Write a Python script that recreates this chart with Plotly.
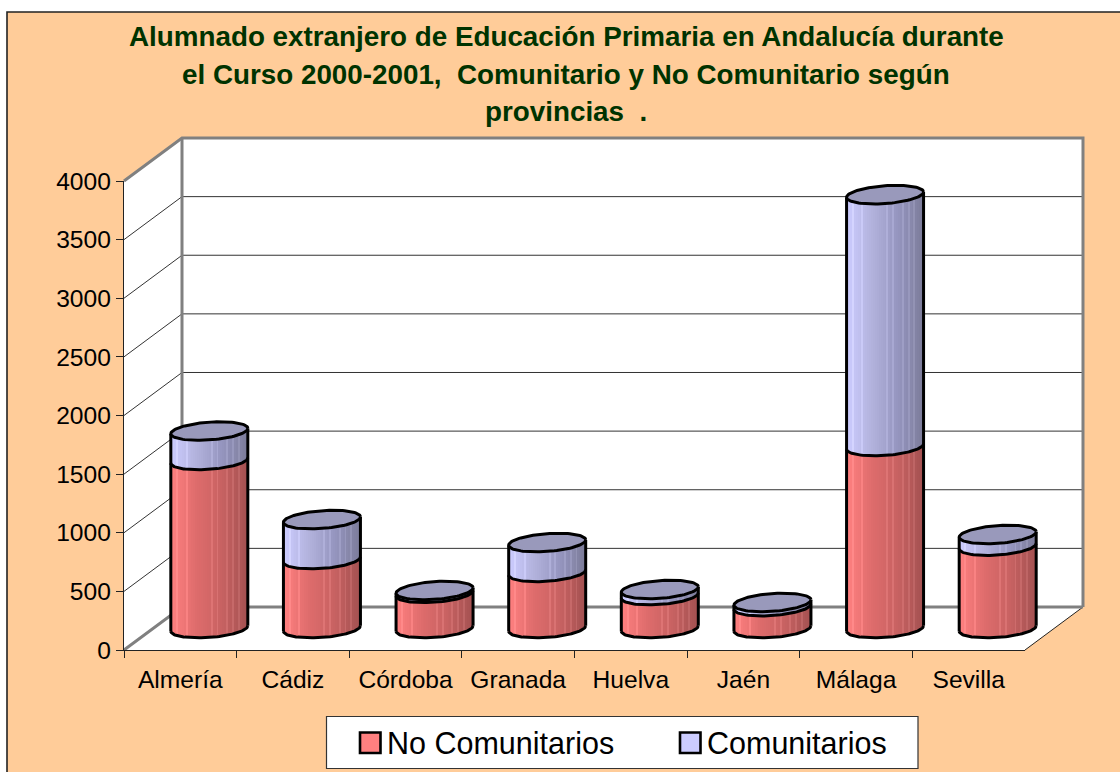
import math
import plotly.graph_objects as go

# ---------- data ----------
categories = ["Almería", "Cádiz", "Córdoba", "Granada", "Huelva", "Jaén", "Málaga", "Sevilla"]
no_comunitarios = [1433, 588, 300, 478, 281, 186, 1552, 702]
comunitarios = [251, 341, 24, 255, 52, 36, 2148, 100]
y_ticks = [0, 500, 1000, 1500, 2000, 2500, 3000, 3500, 4000]
series_names = ["No Comunitarios", "Comunitarios"]
title_lines = [
    "Alumnado extranjero de Educación Primaria en Andalucía durante",
    "el Curso 2000-2001,  Comunitario y No Comunitario según",
    "provincias  .",
]

# ---------- layout constants (pixels) ----------
W, H = 1120, 772
FX0, FX1, FY0, FY1 = 124, 1025, 650, 181      # front plane of the box
DX, DY = 58, 43                               # depth of the box
MX, MY = 29, 21.5                             # plane in which the cylinders stand
RX, RY, TILT = 38.5, 8.9, 2.7                 # cylinder ellipse in pixels
N_SLICES = 40
ORANGE = "#FFCC99"
TOP_COLOR = "#9999BB"
GREY = "#808080"
Y_BELOW = 200                                 # room below zero on the cylinder axis

def px(x):
    return x / W

def py(y):
    return 1 - y / H

PX_PER_CAT = (FX1 - FX0) / len(categories)
PX_PER_VAL = (FY0 - FY1) / 4000

def lerp_color(stops, t):
    t = min(max(t, 0), 1) * (len(stops) - 1)
    i = min(int(t), len(stops) - 2)
    f = t - i
    c = [stops[i][k] + (stops[i + 1][k] - stops[i][k]) * f for k in range(3)]
    return "rgb(%d,%d,%d)" % tuple(round(v) for v in c)

RED_STOPS = [(255, 128, 128), (222, 108, 108), (200, 98, 98), (165, 82, 82)]
BLUE_STOPS = [(204, 204, 255), (178, 178, 220), (150, 150, 192), (125, 125, 155)]
STRIPES = {3, 8, 21, 24, 29, 32, 35}           # faint light facets of the cylinder

def slice_colors(stops):
    out = []
    for s in range(N_SLICES):
        col = lerp_color(stops, s / (N_SLICES - 1))
        if s in STRIPES:
            r, g, b = [int(v) for v in col[4:-1].split(",")]
            col = "rgb(%d,%d,%d)" % (min(r + 14, 255), min(g + 14, 255), min(b + 14, 255))
        out.append(col)
    return out

def ellipse_points(center_cat, value, t0, t1, n=60):
    xs, ys = [], []
    for k in range(n + 1):
        t = t0 + (t1 - t0) * k / n
        xs.append(center_cat + RX * math.cos(t) / PX_PER_CAT)
        up = TILT * math.cos(t) - RY * math.sin(t)
        ys.append(value + up / PX_PER_VAL)
    return xs, ys

fig = go.Figure()

# Invisible carrier of the category axis (front plane)
fig.add_trace(go.Scatter(x=categories, y=[0] * len(categories), mode="markers",
                         marker=dict(opacity=0), hoverinfo="skip", showlegend=False,
                         xaxis="x", yaxis="y"))

# Cylinder bodies: each cylinder is a run of thin bars on the mid-depth axes
for idx, (name, values, stops) in enumerate(zip(series_names, [no_comunitarios, comunitarios],
                                                 [RED_STOPS, BLUE_STOPS])):
    lows = no_comunitarios if idx == 1 else [0] * len(categories)
    xs, bases, heights, colors, custom = [], [], [], [], []
    shades = slice_colors(stops)
    for c, (lo, v) in enumerate(zip(lows, values)):
        for s in range(N_SLICES):
            u = -1 + (2 * s + 1) / N_SLICES
            off = (TILT * u - RY * math.sqrt(1 - u * u)) / PX_PER_VAL
            xs.append(c + u * RX / PX_PER_CAT)
            bases.append(lo + off)
            heights.append(v)
            colors.append(shades[s])
            custom.append(categories[c])
    fig.add_trace(go.Bar(x=xs, y=heights, base=bases, width=2 * RX / PX_PER_CAT / N_SLICES,
                         marker=dict(color=colors, line=dict(width=0)), name=name,
                         customdata=custom, hovertemplate="%{customdata}: %{y}<extra>" + name + "</extra>",
                         showlegend=False, xaxis="x2", yaxis="y2"))

# Outlines and top faces, positioned from the same values
for c in range(len(categories)):
    low = no_comunitarios[c]
    top = low + comunitarios[c]
    line = dict(color="black", width=3)
    opts = dict(mode="lines", hoverinfo="skip", showlegend=False, xaxis="x2", yaxis="y2")
    for level in (0, low):
        xs, ys = ellipse_points(c, level, 0, math.pi)
        fig.add_trace(go.Scatter(x=xs, y=ys, line=line, **opts))
    xl, yl = ellipse_points(c, 0, math.pi, math.pi, 1)
    xr, yr = ellipse_points(c, 0, 0, 0, 1)
    xtl, ytl = ellipse_points(c, top, math.pi, math.pi, 1)
    xtr, ytr = ellipse_points(c, top, 0, 0, 1)
    fig.add_trace(go.Scatter(x=[xl[0], xtl[0]], y=[yl[0], ytl[0]], line=line, **opts))
    fig.add_trace(go.Scatter(x=[xr[0], xtr[0]], y=[yr[0], ytr[0]], line=line, **opts))
    xs, ys = ellipse_points(c, top, 0, 2 * math.pi, 100)
    fig.add_trace(go.Scatter(x=xs, y=ys, line=line, fill="toself", fillcolor=TOP_COLOR, **opts))

# ---------- box: walls and gridlines ----------
def poly(points, fill=None, color=None, width=0, layer="below"):
    path = "M" + "L".join("%.5f,%.5f" % (px(x), py(y)) for x, y in points)
    if fill:
        path += "Z"
    return dict(type="path", xref="paper", yref="paper", path=path,
                fillcolor=fill or "rgba(0,0,0,0)",
                line=dict(color=color or "rgba(0,0,0,0)", width=width), layer=layer)

BX0, BX1, BY0, BY1 = FX0 + DX, FX1 + DX, FY0 - DY, FY1 - DY - 0
shapes = [
    # chart area (white page shows left of and above it)
    poly([(7, 12), (W + 5, 12), (W + 5, H + 5), (7, H + 5)], ORANGE, "#222222", 1.6),
    # walls
    poly([(FX0, FY1), (BX0, BY1), (BX0, BY0), (FX0, FY0)], "white"),
    poly([(BX0, BY1), (BX1, BY1), (BX1, BY0), (BX0, BY0)], "white"),
    poly([(FX0, FY0), (BX0, BY0), (BX1, BY0), (FX1, FY0)], "white"),
]
for v in y_ticks[1:-1]:
    yf = FY0 - v * PX_PER_VAL
    yb = BY0 - v * PX_PER_VAL
    shapes.append(poly([(FX0, yf), (BX0, yb), (BX1, yb)], None, "#333333", 1))
shapes += [
    poly([(FX1, FY0), (BX1, BY0)], None, "#222222", 1),
    poly([(FX0, FY0), (BX0, BY0), (BX1, BY0)], None, GREY, 3),
    poly([(FX0, FY1), (BX0, BY1), (BX1, BY1), (BX1, BY0)], None, GREY, 3),
    poly([(BX0, BY1), (BX0, BY0)], None, GREY, 3),
]

# legend box
LX0, LX1, LY0, LY1 = 326.5, 918, 716.5, 768.5
shapes.append(poly([(LX0, LY0), (LX1, LY0), (LX1, LY1), (LX0, LY1)], "white", "#333333", 1.2))
swatches = [(360, 380.5), (680, 700.5)]
for (a, b), col in zip(swatches, ["#FF8080", "#CCCCFF"]):
    shapes.append(poly([(a, 732.5), (b, 732.5), (b, 753), (a, 753)], col, "black", 2.6))

annotations = []
for name, x in zip(series_names, [384.5, 705]):
    annotations.append(dict(text=name, x=px(x), y=py(743), xref="paper", yref="paper",
                            xanchor="left", yanchor="middle", showarrow=False,
                            font=dict(size=30.5, color="black")))
for line_text, y in zip(title_lines, [37, 74, 111]):
    annotations.append(dict(text="<b>" + line_text + "</b>", x=px(566), y=py(y),
                            xref="paper", yref="paper", xanchor="center", yanchor="middle",
                            showarrow=False, font=dict(size=27.8, color="#003300")))

AX_FONT = dict(family="Liberation Sans, Arial, sans-serif", size=24.6, color="black")
fig.update_layout(
    width=W, height=H, autosize=False,
    margin=dict(l=0, r=0, t=0, b=0, pad=0, autoexpand=False),
    paper_bgcolor="white", plot_bgcolor="rgba(0,0,0,0)",
    font=dict(family="Liberation Sans, Arial, sans-serif", color="black"),
    barmode="overlay", showlegend=False,
    shapes=shapes, annotations=annotations,
    xaxis=dict(domain=[px(FX0), px(FX1)], type="category", categoryorder="array",
               categoryarray=categories, range=[-0.5, len(categories) - 0.5],
               tickson="boundaries", ticks="outside", ticklen=7, tickwidth=1.2,
               tickcolor="#222222", showline=True, linecolor="#222222", linewidth=1.4,
               showgrid=False, zeroline=False, tickfont=AX_FONT, fixedrange=True,
               automargin=False, ticklabelstandoff=7),
    yaxis=dict(domain=[py(FY0), py(FY1)], range=[0, 4000], tickvals=y_ticks,
               ticks="outside", ticklen=7, tickwidth=1.2, tickcolor="#222222",
               showline=True, linecolor="#222222", linewidth=1.4, showgrid=False,
               zeroline=False, tickfont=AX_FONT, fixedrange=True, automargin=False),
    xaxis2=dict(domain=[px(FX0 + MX), px(FX1 + MX)], range=[-0.5, len(categories) - 0.5],
                anchor="y2", visible=False, fixedrange=True),
    yaxis2=dict(domain=[py(FY0 - MY + Y_BELOW * PX_PER_VAL), py(FY1 - MY)], range=[-Y_BELOW, 4000],
                anchor="x2", visible=False, fixedrange=True),
)

fig.write_html("out.html", config=dict(displayModeBar=False),
               post_script="document.body.style.margin='0';document.body.style.overflow='hidden';")
